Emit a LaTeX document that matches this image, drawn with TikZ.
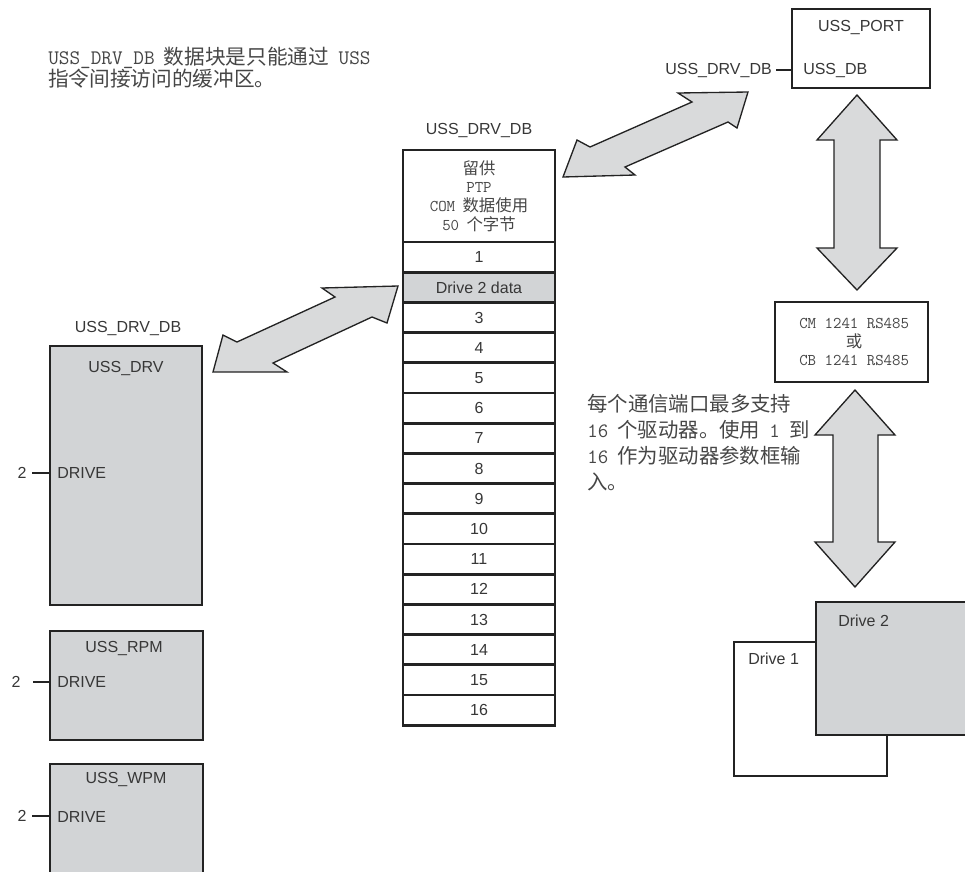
\documentclass[tikz,border=0pt]{standalone}
\usepackage{fontspec}
\setmainfont{Liberation Sans}
\newfontfamily\cjk{Noto Sans CJK SC}
\usetikzlibrary{calc}
\definecolor{boxgray}{RGB}{210,212,214}
\definecolor{arrgray}{RGB}{217,218,219}
\definecolor{ink}{RGB}{35,35,35}
\definecolor{txt}{RGB}{55,55,55}
\definecolor{zhtxt}{RGB}{70,70,70}
\newcommand\lt[1]{{\ttfamily #1}}
\newcommand\gap{\hspace{0.45em}}
\begin{document}
\begin{tikzpicture}[x=0.75pt,y=-0.75pt,
  lbl/.style={font=\fontsize{12}{14}\selectfont, text=txt, inner sep=0pt},
  zhbig/.style={font=\fontsize{15.5}{16.5}\selectfont, text=zhtxt, inner sep=0pt, align=left},
  zhright/.style={font=\fontsize{15.3}{19.5}\selectfont, text=zhtxt, inner sep=0pt, align=left},
  zhs/.style={font=\fontsize{12.3}{14.1}\selectfont, text=zhtxt, inner sep=0pt, align=center},
  blk/.style={draw=ink, line width=2.2pt, fill=boxgray, inner sep=0pt},
  wbox/.style={draw=ink, line width=2.2pt, fill=white, inner sep=0pt},
  row/.style={draw=ink, line width=2.2pt, fill=white, minimum width=114pt, minimum height=22.65pt, inner sep=0pt, font=\fontsize{12}{14}\selectfont, text=txt},
  pinline/.style={draw=ink, line width=2pt},
  bigarrow/.style={draw=ink, line width=1pt, fill=arrgray, line join=miter},
]
\useasboundingbox (0,0) rectangle (965,872);

% ---------- top-left note ----------
\node[zhbig, anchor=west] (note1) at (48,68)
  {\lt{USS\_DRV\_DB}\gap{\cjk 数据块是只能通过}\gap\lt{USS}\\{\cjk 指令间接访问的缓冲区。}};

% ---------- central data block ----------
\node[lbl] (tdb) at (479,130) {USS\_DRV\_DB};
\node[wbox, minimum width=114pt, minimum height=69pt, zhs] (hdr) at (479,196)
  {{\cjk 留供}\\\lt{PTP}\\\lt{COM}\gap{\cjk 数据使用}\\\lt{50}\gap{\cjk 个字节}};
\foreach \i in {1,3,4,5,6,7,8,9,10,11,12,13,14,15,16}
  \node[row] (r\i) at (479,{242+(\i-0.5)*30.2}) {\i};
\node[row, fill=boxgray] (r2) at (479,{242+1.5*30.2}) {Drive 2 data};

% ---------- left instruction boxes ----------
\node[lbl] (ldb) at (128,328) {USS\_DRV\_DB};
\node[blk, minimum width=114pt, minimum height=194.25pt] (drv) at (126,475.5) {};
\node[lbl] at (126,368) {USS\_DRV};
\node[lbl, anchor=west] (drvin) at (57,473) {DRIVE};
\node[lbl] (drv2) at (22,473) {2};
\draw[pinline] ([xshift=4pt]drv2.east) -- (drv.west |- drv2);

\node[blk, minimum width=114.75pt, minimum height=81.75pt] (rpm) at (126.5,685.5) {};
\node[lbl] at (124,648) {USS\_RPM};
\node[lbl, anchor=west] (rpmin) at (57,682) {DRIVE};
\node[lbl] (rpm2) at (16,682) {2};
\coordinate (rpmc) at (33,682);
\draw[pinline] (rpmc) -- (rpm.west |- rpmc);

\fill[boxgray] (50,764) rectangle (203,874);
\draw[draw=ink, line width=2.2pt] (50,874) -- (50,764) -- (203,764) -- (203,874);
\coordinate (wpmw) at (50,817);
\node[lbl] at (126,779) {USS\_WPM};
\node[lbl, anchor=west] (wpmin) at (57,817) {DRIVE};
\node[lbl] (wpm2) at (22,816) {2};
\draw[pinline] ([xshift=4pt]wpm2.east) -- (wpmw |- wpm2);

% ---------- USS_PORT ----------
\node[wbox, minimum width=103.5pt, minimum height=59.25pt] (port) at (861,48.5) {};
\node[lbl] at (861,27) {USS\_PORT};
\node[lbl, anchor=west] (portin) at (803,70) {USS\_DB};
\node[lbl, anchor=east] (pdb) at (772,70) {USS\_DRV\_DB};
\draw[pinline] ([xshift=3pt]pdb.east) -- (port.west |- pdb);

% ---------- CM module ----------
\node[wbox, minimum width=114.75pt, minimum height=60pt, zhs] (cm) at (851.5,342)
  {\hspace*{4pt}\lt{CM 1241 RS485}\\\hspace*{4pt}{\cjk 或}\\\hspace*{4pt}\lt{CB 1241 RS485}};

% ---------- right note ----------
\node[zhright, anchor=west] (note2) at (587,443)
  {{\cjk 每个通信端口最多支持}\\\lt{16}\gap{\cjk 个驱动器。使用}\gap\lt{1}\gap{\cjk 到}\\\lt{16}\gap{\cjk 作为驱动器参数框输}\\{\cjk 入。}};

% ---------- drives ----------
\node[wbox, line width=2pt, minimum width=114.75pt, minimum height=100.5pt] (d1) at (810.5,709) {};
\node[lbl, anchor=west] at (748,659) {Drive 1};
\fill[boxgray] (816,602) rectangle (967,735);
\draw[draw=ink, line width=2pt] (967,602) -- (816,602) -- (816,735) -- (967,735);
\node[lbl, anchor=west] at (838,621) {Drive 2};

% ---------- big double arrows ----------
\draw[bigarrow] (563,177) -- (577,140) -- (590,147) -- (692,102) -- (678,93) -- (748,92)
  -- (737,128) -- (728,122) -- (625,167) -- (635,175) -- cycle;
\draw[bigarrow] (213,372) -- (223,335) -- (237,342) -- (335,297) -- (322,288) -- (398,286)
  -- (387,323) -- (372,317) -- (273,363) -- (287,372) -- cycle;
\draw[bigarrow] (857,95) -- (897,140) -- (880,140) -- (880,248) -- (897,248) -- (857,290)
  -- (817,248) -- (834,248) -- (834,140) -- (817,140) -- cycle;
\draw[bigarrow] (855,390) -- (895,435) -- (878,435) -- (878,542) -- (895,542) -- (855,587)
  -- (815,542) -- (833,542) -- (833,435) -- (815,435) -- cycle;
\end{tikzpicture}
\end{document}
